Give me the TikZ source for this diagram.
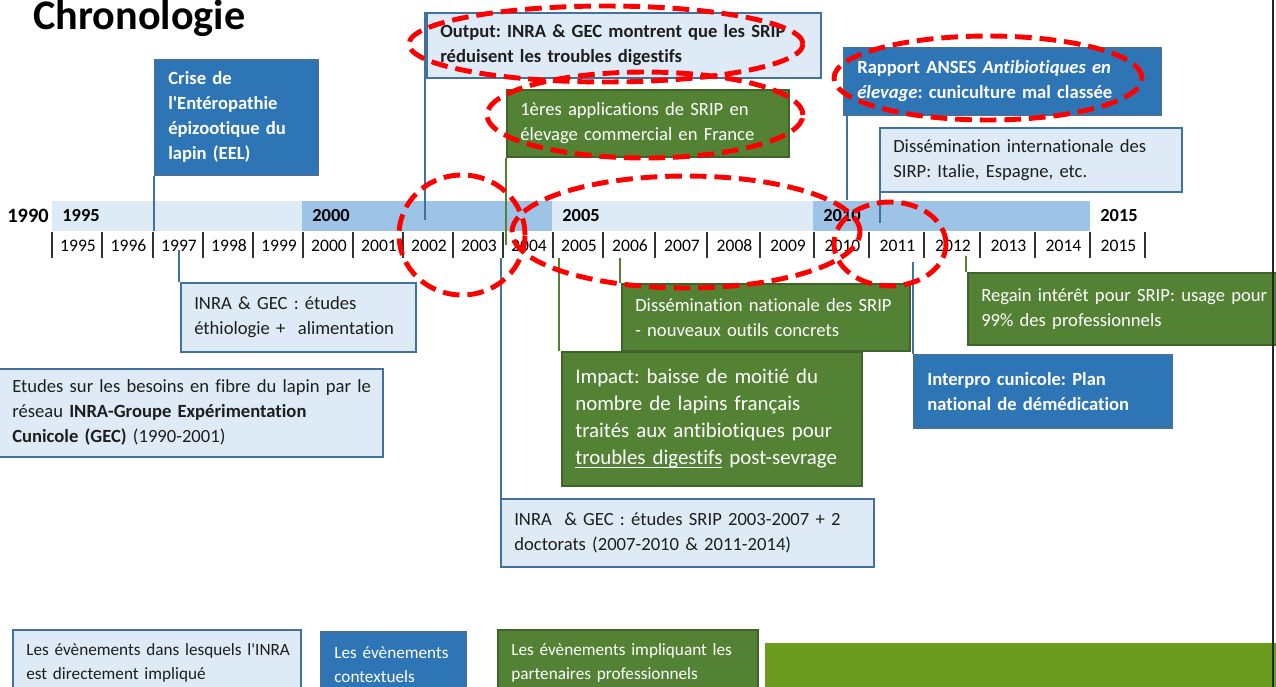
\documentclass[tikz,border=0pt]{standalone}
\usepackage{fontspec}
\setmainfont{Carlito}
\newfontfamily\evfamily{Carlito}[Ligatures=CommonOff]
\frenchspacing

\definecolor{inrafill}{HTML}{DEEBF7}
\definecolor{inraline}{HTML}{41719C}
\definecolor{ctxfill}{HTML}{2E75B6}
\definecolor{profill}{HTML}{548235}
\definecolor{proline}{HTML}{3F6328}
\definecolor{bandlight}{HTML}{DDEBF7}
\definecolor{banddark}{HTML}{9DC3E6}
\definecolor{legendolive}{HTML}{6B9B1F}
\definecolor{textdark}{HTML}{1E1E1E}

\newcommand{\evfont}{\evfamily\fontsize{10.6}{14.2}\selectfont}
\newcommand{\impactfont}{\evfamily\fontsize{11.9}{15.3}\selectfont}
\newcommand{\legendfont}{\evfamily\fontsize{9.8}{13.6}\selectfont}
\newcommand{\yearfont}{\evfamily\fontsize{10}{12}\selectfont}

\begin{document}
\begin{tikzpicture}[%
        x = 0.02cm, y = -0.02cm,
        evbox/.style = {%
            anchor = north west, align = left,
            inner xsep = 0.27cm, inner ysep = 0pt,
            line width = 0.9pt, font = \evfont
        },
        inra/.style = {evbox, draw = inraline, fill = inrafill, text = textdark},
        ctx/.style = {evbox, draw = inraline, fill = ctxfill, text = white},
        pro/.style = {evbox, draw = proline, fill = profill, text = white},
        inralink/.style = {draw = inraline, line width = 0.8pt},
        prolink/.style = {draw = profill, line width = 0.9pt},
        redring/.style = {%
            draw = red, line width = 2.8pt,
            dash pattern = on 9.5pt off 4.5pt
        },
        yearlabel/.style = {font = \yearfont, inner sep = 0pt},
        bandlabel/.style = {%
            font = \evfamily\bfseries\fontsize{10.5}{12}\selectfont,
            anchor = west, inner sep = 0pt
        }
    ]

        % Frame of the slide.
        \useasboundingbox (0,0) rectangle (1276,687);
        \clip (0,0) rectangle (1276,687);

        \node[anchor = base west, inner sep = 0pt,
            font = \evfamily\bfseries\fontsize{24}{27}\selectfont] (title) at (33,29) {Chronologie};

        % Timeline band.
        \fill[bandlight] (52,201) rectangle (302,231);
        \fill[banddark] (302,201) rectangle (552,231);
        \fill[bandlight] (552,201) rectangle (813,231);
        \fill[banddark] (813,201) rectangle (1090,231);

        \node[bandlabel, font = \evfamily\bfseries\fontsize{11.6}{13}\selectfont] (band1990) at (7,216) {1990};
        \foreach \x/\yr in {62/1995, 312/2000, 562/2005, 823/2010, 1100/2015}{%
            \node[bandlabel] (band\yr) at (\x,216) {\yr};
        }

        % Ticks and years under the band.
        \foreach \a/\b/\yr in {52/102/1995, 102/153/1996, 153/203/1997, 203/253/1998,
                253/303/1999, 303/353/2000, 353/403/2001, 403/453/2002, 453/503/2003,
                503/553/2004, 553/603/2005, 603/655/2006, 655/707/2007, 707/760/2008,
                760/814/2009, 814/869/2010, 869/924/2011, 924/980/2012, 980/1035/2013,
                1035/1090/2014, 1090/1145/2015}{%
            \draw[line width = 0.7pt, black!80] (\a,232) -- (\a,258);
            \node[yearlabel] (tick\yr) at ({(\a+\b)/2+1},246) {\yr};
        }
        \draw[line width = 0.7pt, black!80] (1145,232) -- (1145,258);

        % Events with INRA directly involved.
        \node[inra, text width = 7.34cm, minimum height = 1.30cm, font = \evfont\bfseries] (output) at (426,12)
            {\mbox{Output: INRA \& GEC montrent que les SRIP}\\réduisent les troubles digestifs};
        \node[inra, text width = 4.16cm, minimum height = 1.38cm] (etiol) at (180,282)
            {INRA \& GEC : études\\éthiologie +~ alimentation};
        \node[inra, text width = 7.14cm, minimum height = 1.76cm] (fibre) at (-2,368)
            {\mbox{Etudes sur les besoins en fibre du lapin par le}\\réseau \textbf{INRA-Groupe Expérimentation}\\\textbf{Cunicole (GEC)} (1990-2001)};
        \node[inra, text width = 6.92cm, minimum height = 1.36cm] (srip) at (500,498)
            {\mbox{INRA~ \& GEC : études SRIP 2003-2007 + 2}\\doctorats (2007-2010 \& 2011-2014)};
        \node[inra, text width = 5.50cm, minimum height = 1.28cm] (intl) at (879,127)
            {\mbox{Dissémination internationale des}\\SIRP: Italie, Espagne, etc.};

        % Context events.
        \node[ctx, text width = 2.72cm, minimum height = 2.30cm, font = \evfont\bfseries] (crise) at (154,59)
            {Crise de\\l'Entéropathie\\épizootique du\\lapin (EEL)};
        \node[ctx, text width = 5.80cm, minimum height = 1.34cm, font = \evfont\bfseries] (anses) at (843,47)
            {\mbox{Rapport ANSES \textit{Antibiotiques en}}\\\mbox{\textit{élevage}: cuniculture mal classée}};
        \node[ctx, text width = 4.62cm, minimum height = 1.46cm, font = \evfont\bfseries] (interpro) at (913,354)
            {Interpro cunicole: Plan\\national de démédication};

        % Events with the professional partners.
        \node[pro, text width = 5.10cm, minimum height = 1.34cm] (appli) at (506,89)
            {\mbox{1ères applications de SRIP en}\\\mbox{élevage commercial en France}};
        \node[pro, text width = 5.22cm, minimum height = 1.34cm] (natio) at (621,283)
            {\mbox{Dissémination nationale des SRIP}\\- nouveaux outils concrets};
        \node[pro, text width = 5.46cm, minimum height = 2.68cm, font = \impactfont] (impact) at (561,351)
            {Impact: baisse de moitié du\\nombre de lapins français\\\mbox{traités aux antibiotiques pour}\\%
            \mbox{\underline{\raisebox{0pt}[\height][0pt]{troubles digestifs}} post-sevrage}};
        \node[pro, text width = 5.72cm, minimum height = 1.44cm] (regain) at (967,272)
            {\mbox{Regain intérêt pour SRIP: usage pour}\\99\% des professionnels};

        % Lines from the boxes to the timeline.
        \coordinate (crise-end) at (154,231);
        \coordinate (output-end) at (425,220);
        \coordinate (appli-end) at (506,245);
        \coordinate (anses-end) at (847,200);
        \coordinate (intl-end) at (880,223);
        \coordinate (etiol-end) at (179,250);
        \coordinate (srip-end) at (501,258);
        \coordinate (natio-end) at (620,258);
        \coordinate (impact-end) at (559,258);
        \coordinate (interpro-end) at (913,262);
        \coordinate (regain-end) at (966,256);

        \draw[inralink] (crise.south west) -- (crise-end);
        \draw[inralink] (output-end |- output.north) -- (output-end);
        \draw[prolink] (appli.south west) -- (appli-end);
        \draw[inralink] (anses-end |- anses.south) -- (anses-end);
        \draw[inralink] (intl-end |- intl.south) -- (intl-end);
        \draw[inralink] (etiol-end |- etiol.north) -- (etiol-end);
        \draw[inralink] (srip-end |- srip.north) -- (srip-end);
        \draw[prolink] (natio-end |- natio.north) -- (natio-end);
        \draw[prolink] (impact-end |- impact.north) -- (impact-end);
        \draw[inralink] (interpro.north west) -- (interpro-end);
        \draw[prolink] (regain-end |- regain.north) -- (regain-end);

        % Legend.
        \node[inra, text width = 5.22cm, minimum height = 1.32cm, font = \legendfont] (keyinra) at (12,629)
            {\mbox{Les évènements dans lesquels l'INRA}\\est directement impliqué};
        \node[ctx, text width = 2.36cm, minimum height = 1.30cm, font = \legendfont] (keyctx) at (320,631)
            {Les évènements\\contextuels};
        \node[pro, text width = 4.66cm, minimum height = 1.32cm, font = \legendfont] (keypro) at (497,629)
            {\mbox{Les évènements impliquant les}\\partenaires professionnels};
        \fill[legendolive] (765,643) rectangle (1285,700);

        % Red dashed rings.
        \draw[redring] (606,44) ellipse [x radius = 3.94cm, y radius = 0.76cm];
        \draw[redring] (645,115) ellipse [x radius = 3.16cm, y radius = 0.86cm];
        \draw[redring] (988,78) ellipse [x radius = 3.08cm, y radius = 0.84cm];
        \draw[redring] (462,235) ellipse [x radius = 1.26cm, y radius = 1.20cm];
        \draw[redring] (686,232) ellipse [x radius = 3.48cm, y radius = 1.12cm];
        \draw[redring] (890,244) ellipse [x radius = 1.12cm, y radius = 0.84cm];

        % Right edge of the slide.
        \draw[line width = 1.6pt, black!85] (1273,0) -- (1273,687);
    \end{tikzpicture}
\end{document}
